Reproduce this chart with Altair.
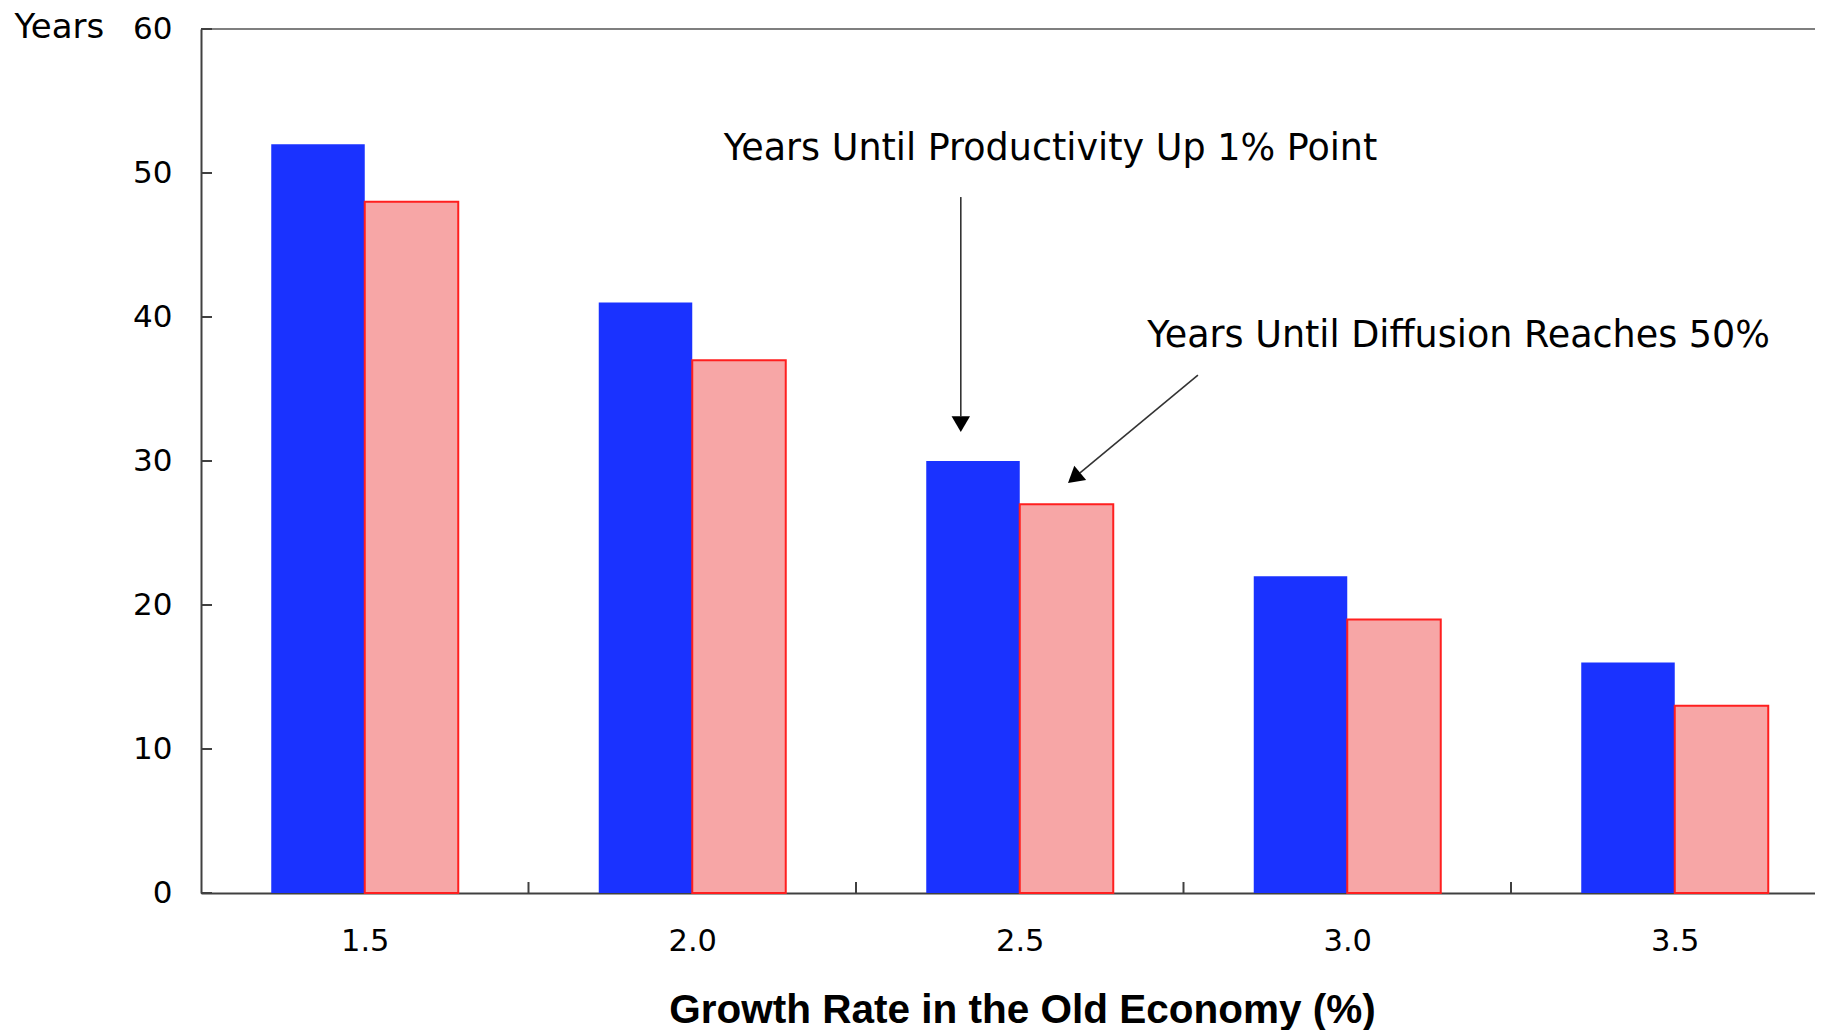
import altair as alt
import pandas as pd

# ---- data ----
growth_rates = [1.5, 2.0, 2.5, 3.0, 3.5]
years_productivity = [52, 41, 30, 22, 16]   # Years Until Productivity Up 1% Point (blue)
years_diffusion = [48, 37, 27, 19, 13]      # Years Until Diffusion Reaches 50% (red)
y_ticks = [0, 10, 20, 30, 40, 50, 60]

# annotation texts and anchor points (data units)
ann_text = ["Years Until Productivity Up 1% Point", "Years Until Diffusion Reaches 50%"]
ann_x = [2.547, 3.170]
ann_y = [50.9, 37.95]
arrow_x = [2.410, 2.772]
arrow_y = [48.33, 35.97]
arrow_x2 = [2.410, 2.592]
arrow_y2 = [33.1, 29.17]
head_x = [2.410, 2.583]
head_y = [32.56, 28.82]
head_angle = [180, 230]

# ---- layout constants ----
W, H = 1614, 864
PX_PER_UNIT = 655.0
X0 = 1.25
XMAX = X0 + W / PX_PER_UNIT
BW = 93.5 / PX_PER_UNIT

bars = pd.DataFrame({"growth": growth_rates, "prod": years_productivity, "diff": years_diffusion})
boundaries = pd.DataFrame({"b": [(a + b) / 2 for a, b in zip(growth_rates[:-1], growth_rates[1:])]})
yt = pd.DataFrame({"v": y_ticks})
ann = pd.DataFrame({"text": ann_text, "x": ann_x, "y": ann_y})
arrows = pd.DataFrame({"x": arrow_x, "y": arrow_y, "x2": arrow_x2, "y2": arrow_y2})
heads = pd.DataFrame({"x": head_x, "y": head_y, "angle": head_angle})

xscale = alt.Scale(domain=[X0, XMAX], zero=False, nice=False)
yscale = alt.Scale(domain=[0, 60], zero=True, nice=False)

x_axis = alt.Axis(
    values=growth_rates, format=".1f", ticks=False, labelPadding=33, labelFontSize=30.5,
    labelFont="DejaVu Sans", labelColor="#000000", grid=False,
    domainColor="#404040", domainWidth=2,
    title="Growth Rate in the Old Economy (%)", titleFont="Liberation Sans", titleFontSize=40.5,
    titleFontWeight="bold", titleColor="#000000", titleX=821, titleY=129,
    titleBaseline="alphabetic", titleAlign="center",
)
y_axis = alt.Axis(
    values=y_ticks, ticks=False, labelPadding=29, labelFontSize=31, labelFont="DejaVu Sans",
    labelColor="#000000", grid=False, domainColor="#404040", domainWidth=2,
    title="Years", titleAngle=0, titleAlign="left", titleBaseline="alphabetic",
    titleX=-187, titleY=8, titleFont="DejaVu Sans", titleFontSize=34,
    titleFontWeight="normal", titleColor="#000000",
)

base = alt.Chart(bars)

blue = base.transform_calculate(
    x0=f"datum.growth - {BW}", x1="datum.growth"
).mark_rect(color="#1A32FF").encode(
    x=alt.X("x0:Q", scale=xscale, axis=x_axis),
    x2="x1:Q",
    y=alt.Y("prod:Q", scale=yscale, axis=y_axis),
    y2=alt.datum(0),
)

red = base.transform_calculate(
    x0="datum.growth", x1=f"datum.growth + {BW}"
).mark_rect(fill="#F7A6A6", stroke="#FF1F1F", strokeWidth=2).encode(
    x=alt.X("x0:Q", scale=xscale),
    x2="x1:Q",
    y=alt.Y("diff:Q", scale=yscale),
    y2=alt.datum(0),
)

top_line = alt.Chart(yt).transform_filter("datum.v == 60").mark_rule(
    color="#7F7F7F", strokeWidth=2
).encode(y=alt.Y("v:Q", scale=yscale))

ytick_marks = alt.Chart(yt).mark_rule(color="#404040", strokeWidth=2).encode(
    y=alt.Y("v:Q", scale=yscale),
    x=alt.datum(X0),
    x2=alt.datum(X0 + 11 / PX_PER_UNIT),
)

xtick_marks = alt.Chart(boundaries).mark_rule(color="#404040", strokeWidth=2).encode(
    x=alt.X("b:Q", scale=xscale),
    y=alt.datum(0),
    y2=alt.datum(11 / 14.4),
)

texts = alt.Chart(ann).mark_text(
    font="DejaVu Sans", fontSize=36.5, color="#000000", align="center", baseline="alphabetic"
).encode(
    x=alt.X("x:Q", scale=xscale),
    y=alt.Y("y:Q", scale=yscale),
    text="text:N",
)

arrow_lines = alt.Chart(arrows).mark_rule(color="#333333", strokeWidth=1.6).encode(
    x=alt.X("x:Q", scale=xscale),
    y=alt.Y("y:Q", scale=yscale),
    x2="x2:Q",
    y2="y2:Q",
)

arrow_heads = alt.Chart(heads).mark_point(
    shape="triangle-up", filled=True, color="#000000", size=340, opacity=1
).encode(
    x=alt.X("x:Q", scale=xscale),
    y=alt.Y("y:Q", scale=yscale),
    angle=alt.Angle("angle:Q", scale=None),
)

chart = alt.layer(
    blue, red, top_line, ytick_marks, xtick_marks, texts, arrow_lines, arrow_heads
).properties(
    width=W, height=H,
    autosize=alt.AutoSizeParams(type="none"),
    padding={"left": 193, "top": 21, "right": 0, "bottom": 137},
).configure_view(stroke=None).configure(background="white")

chart.save("out.html", embed_options={"renderer": "svg", "actions": False})
